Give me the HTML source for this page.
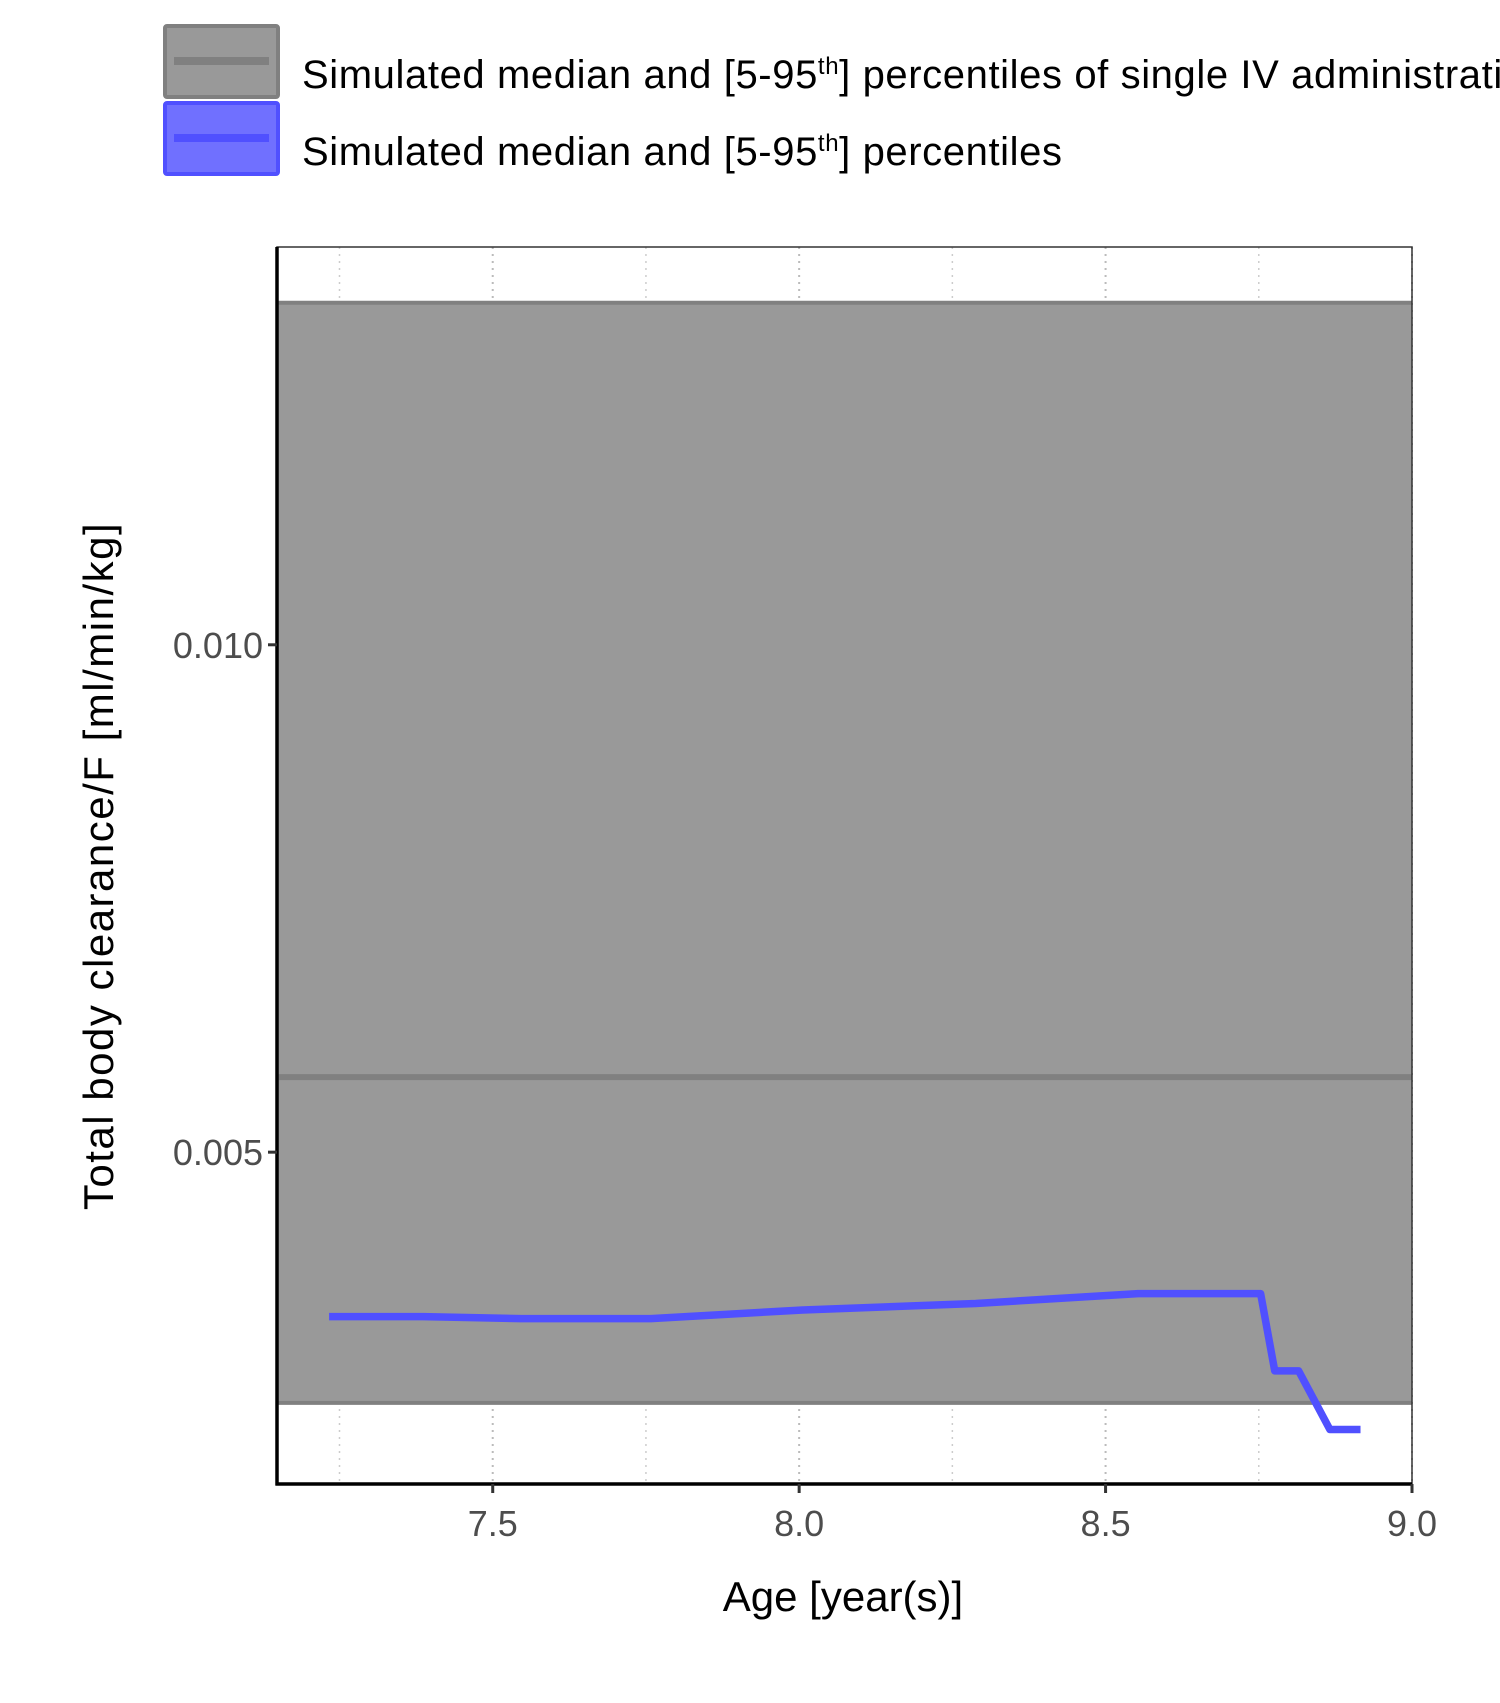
<!DOCTYPE html>
<html><head><meta charset="utf-8"><style>
body{margin:0;background:#fff;width:1500px;height:1703px;overflow:hidden}
svg{display:block;font-family:"Liberation Sans",sans-serif}
</style></head><body>
<svg id="chart" width="1500" height="1703" viewBox="0 0 1500 1703">
<g>
<rect x="165" y="26" width="113" height="71" fill="#999" stroke="#808080" stroke-width="4" rx="2"/>
<line x1="174" y1="61" x2="269" y2="61" stroke="#808080" stroke-width="8"/>
<text x="302" y="88" font-size="40" letter-spacing="0.6" fill="#000">Simulated median and [5-95<tspan font-size="24" dy="-14">th</tspan><tspan dy="14">] percentiles of single IV administration</tspan></text>
<rect x="165" y="103" width="113" height="71" fill="#7070ff" stroke="#5050ff" stroke-width="4" rx="2"/>
<line x1="174" y1="138" x2="269" y2="138" stroke="#5050ff" stroke-width="8"/>
<text x="302" y="165" font-size="40" letter-spacing="0.6" fill="#000">Simulated median and [5-95<tspan font-size="24" dy="-14">th</tspan><tspan dy="14">] percentiles</tspan></text>
</g>
<g id="plot"></g>
<text transform="translate(113,866) rotate(-90)" text-anchor="middle" font-size="42" letter-spacing="1.5" fill="#000">Total body clearance/F [ml/min/kg]</text>
<text x="843" y="1611" text-anchor="middle" font-size="42" fill="#000">Age [year(s)]</text>
</svg>
<script>
const ribbonX=[7.148,9.0];
const ribbonLow=[0.00253,0.00253];
const ribbonMed=[0.00574,0.00574];
const ribbonHigh=[0.01337,0.01337];
const ages=[7.233,7.387,7.546,7.758,8.006,8.288,8.553,8.753,8.776,8.815,8.866,8.916];
const clearance=[0.00338,0.00338,0.00336,0.00336,0.003445,0.003509,0.003606,0.003606,0.002845,0.002845,0.002267,0.002267];
const xTicks=[7.5,8.0,8.5,9.0];
const xTickLabels=["7.5","8.0","8.5","9.0"];
const yTicks=[0.005,0.010];
const yTickLabels=["0.005","0.010"];
const xMinor=[7.25,7.75,8.25,8.75];

const L=277,R=1412,T=247,B=1484;
const xmin=7.148,xmax=9.0,ymin=0.00173,ymax=0.01392;
const sx=v=>L+(v-xmin)/(xmax-xmin)*(R-L);
const sy=v=>B-(v-ymin)/(ymax-ymin)*(B-T);
const NS="http://www.w3.org/2000/svg";
const g=document.getElementById('plot');
function mk(tag,attrs){const e=document.createElementNS(NS,tag);for(const k in attrs)e.setAttribute(k,attrs[k]);g.appendChild(e);return e;}

let e=mk('rect',{x:L,y:T,width:R-L,height:B-T,fill:'#fff'});


xMinor.forEach(v=>{const l=mk('line',{x1:sx(v),x2:sx(v),y1:T,y2:B,stroke:'#ccc','stroke-width':1.5,'stroke-dasharray':'2 5'});

});
xTicks.forEach(v=>{const l=mk('line',{x1:sx(v),x2:sx(v),y1:T,y2:B,stroke:'#bbb','stroke-width':2,'stroke-dasharray':'2 5'});

});
yTicks.forEach(v=>{const l=mk('line',{x1:L,x2:R,y1:sy(v),y2:sy(v),stroke:'#bbb','stroke-width':2,'stroke-dasharray':'2 5'});

});

let pts=ribbonX.map((x,i)=>sx(x)+','+sy(ribbonHigh[i])).concat(ribbonX.slice().reverse().map((x,j)=>{const i=ribbonX.length-1-j;return sx(x)+','+sy(ribbonLow[i]);}));
e=mk('polygon',{points:pts.join(' '),fill:'#999',stroke:'none'});


[ribbonHigh,ribbonLow].forEach(a=>{const l=mk('polyline',{points:ribbonX.map((x,i)=>sx(x)+','+sy(a[i])).join(' '),fill:'none',stroke:'#808080','stroke-width':4});

});
e=mk('polyline',{points:ribbonX.map((x,i)=>sx(x)+','+sy(ribbonMed[i])).join(' '),fill:'none',stroke:'#808080','stroke-width':6});



e=mk('polyline',{points:ages.map((x,i)=>sx(x)+','+sy(clearance[i])).join(' '),fill:'none',stroke:'#5050ff','stroke-width':7.5,'stroke-linejoin':'round'});



e=mk('rect',{x:L,y:T,width:R-L,height:B-T,fill:'none',stroke:'#333','stroke-width':1.5});


e=mk('line',{x1:L,x2:L,y1:T,y2:B+1.5,stroke:'#000','stroke-width':3.5});


e=mk('line',{x1:L-1.5,x2:R,y1:B,y2:B,stroke:'#000','stroke-width':3.5});



xTicks.forEach((v,i)=>{
 const t=mk('line',{x1:sx(v),x2:sx(v),y1:B,y2:B+9,stroke:'#333','stroke-width':3});
 
 
 const s=mk('text',{x:sx(v),y:1536,'text-anchor':'middle','font-size':36,fill:'#4d4d4d'});
 s.textContent=xTickLabels[i];
 
 
});
yTicks.forEach((v,i)=>{
 const t=mk('line',{x1:L-9,x2:L,y1:sy(v),y2:sy(v),stroke:'#333','stroke-width':3});
 
 
 const s=mk('text',{x:L-14,y:sy(v)+13,'text-anchor':'end','font-size':36,fill:'#4d4d4d'});
 s.textContent=yTickLabels[i];
 
 
});
</script>
</body></html>
